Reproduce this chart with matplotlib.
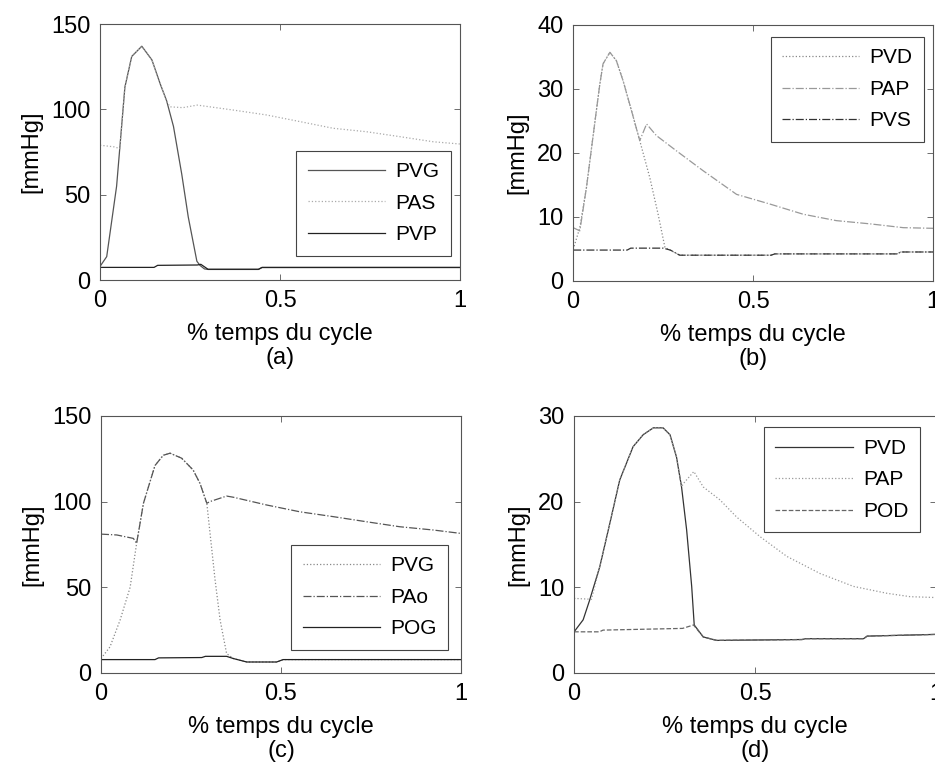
import matplotlib
matplotlib.use("Agg")
from matplotlib import pyplot as plt

plt.rcParams['font.family'] = ['Liberation Sans', 'DejaVu Sans']

# ---- panel (a) ----
a_pvg_x = [0, 0.0185, 0.046, 0.069, 0.088, 0.116, 0.144, 0.167, 0.185, 0.204, 0.227, 0.245, 0.269, 0.278,
           0.29, 0.30, 0.44, 0.45, 1.0]
a_pvg_y = [8, 13.7, 55, 113, 131, 137, 129, 115, 105, 90, 62, 37, 11, 8.5,
           6.5, 6.2, 6.2, 7.3, 7.3]
a_pas_x = [0, 0.04, 0.055, 0.069, 0.088, 0.116, 0.144, 0.167, 0.185, 0.194, 0.23, 0.27, 0.37, 0.463,
           0.556, 0.648, 0.74, 0.833, 0.926, 1.0]
a_pas_y = [79, 78, 77, 113, 131, 137, 129, 115, 105, 101.5, 101, 102.5, 99.6, 96.7,
           92.8, 88.9, 86.9, 84, 81, 79.7]
a_pvp_x = [0, 0.15, 0.16, 0.27, 0.28, 0.30, 0.44, 0.45, 1.0]
a_pvp_y = [7.4, 7.4, 8.6, 8.8, 9.2, 6.3, 6.3, 7.4, 7.4]

# ---- panel (b) ----
b_pvd_x = [0, 0.0185, 0.037, 0.056, 0.074, 0.083, 0.102, 0.12, 0.139, 0.162, 0.185, 0.213, 0.236,
           0.255, 0.269, 0.296, 0.55, 0.56, 0.9, 0.91, 1.0]
b_pvd_y = [4.9, 8.3, 14.6, 22.9, 30.7, 33.9, 35.7, 34.4, 31.2, 26.6, 21.9, 16.1, 10.4,
           5.2, 4.8, 4.0, 4.0, 4.2, 4.2, 4.5, 4.5]
b_pap_x = [0, 0.0185, 0.037, 0.056, 0.074, 0.083, 0.102, 0.12, 0.139, 0.162, 0.185, 0.204, 0.231,
           0.287, 0.361, 0.454, 0.546, 0.639, 0.731, 0.824, 0.917, 1.0]
b_pap_y = [8.3, 7.8, 14.6, 22.9, 30.7, 33.9, 35.7, 34.4, 31.2, 26.6, 21.9, 24.5, 22.7,
           20.3, 17.2, 13.5, 12.0, 10.4, 9.4, 8.9, 8.3, 8.2]
b_pvs_x = [0, 0.15, 0.16, 0.25, 0.27, 0.296, 0.55, 0.56, 0.9, 0.91, 1.0]
b_pvs_y = [4.8, 4.8, 5.1, 5.1, 4.8, 4.0, 4.0, 4.2, 4.2, 4.5, 4.5]

# ---- panel (c) ----
c_pvg_x = [0, 0.025, 0.053, 0.081, 0.099, 0.118, 0.15, 0.173, 0.192, 0.224, 0.256, 0.275, 0.294,
           0.303, 0.317, 0.331, 0.349, 0.368, 0.405, 0.488, 0.506, 1.0]
c_pvg_y = [8.4, 15.2, 30.8, 50, 75.6, 99, 121, 127, 128.2, 125.3, 118.4, 110.6, 99,
           81.4, 54.2, 30.8, 11.3, 8.4, 6.4, 6.4, 7.8, 7.8]
c_pao_x = [0, 0.044, 0.09, 0.099, 0.118, 0.15, 0.173, 0.192, 0.224, 0.256, 0.275, 0.294, 0.303,
           0.349, 0.368, 0.46, 0.553, 0.645, 0.738, 0.83, 0.923, 1.0]
c_pao_y = [81, 80.5, 78.5, 75.6, 99, 121, 127, 128.2, 125.3, 118.4, 110.6, 99, 100,
           103.2, 102.5, 98, 94, 91.2, 88.2, 85.3, 83.4, 81.4]
c_pog_x = [0, 0.15, 0.16, 0.28, 0.29, 0.349, 0.368, 0.405, 0.488, 0.506, 1.0]
c_pog_y = [7.8, 7.8, 8.8, 9.0, 9.7, 9.7, 8.4, 6.4, 6.4, 7.8, 7.8]

# ---- panel (d) ----
d_pvd_x = [0, 0.025, 0.043, 0.071, 0.099, 0.126, 0.163, 0.191, 0.219, 0.246, 0.265, 0.283, 0.297,
           0.311, 0.325, 0.332, 0.357, 0.394, 0.63, 0.64, 0.8, 0.81, 1.0]
d_pvd_y = [4.8, 6.2, 8.5, 12.4, 17.5, 22.5, 26.4, 27.8, 28.6, 28.6, 27.8, 25.2, 21.7,
           16.7, 10.1, 5.6, 4.2, 3.8, 3.9, 4.0, 4.0, 4.3, 4.5]
d_pap_x = [0, 0.048, 0.071, 0.099, 0.126, 0.163, 0.191, 0.219, 0.246, 0.265, 0.283, 0.297, 0.302,
           0.331, 0.357, 0.403, 0.449, 0.514, 0.588, 0.68, 0.772, 0.864, 0.929, 1.0]
d_pap_y = [8.7, 8.6, 12.4, 17.5, 22.5, 26.4, 27.8, 28.6, 28.6, 27.8, 25.2, 21.7, 22.1,
           23.5, 21.7, 20.2, 18.2, 15.9, 13.6, 11.6, 10.1, 9.3, 8.9, 8.8]
d_pod_x = [0, 0.07, 0.08, 0.30, 0.33, 0.357, 0.394, 0.63, 0.64, 0.8, 0.81, 1.0]
d_pod_y = [4.8, 4.8, 5.0, 5.2, 5.6, 4.2, 3.8, 3.9, 4.0, 4.0, 4.3, 4.5]

FS = 17       # ticks and axis labels
FS_LEG = 15   # legend entries
fig = plt.figure(figsize=(9.35, 7.63), dpi=100)


def make_axes(rect, ymax, ystep, letter):
    ax = fig.add_axes(rect)
    ax.set_xlim(0, 1)
    ax.set_ylim(0, ymax)
    ax.set_xticks([0, 0.5, 1])
    ax.set_xticklabels(['0', '0.5', '1'])
    ax.set_yticks(list(range(0, ymax + 1, ystep)))
    ax.tick_params(direction='in', length=4, width=0.6, color='#555555', labelsize=FS,
                   top=True, right=True, pad=7)
    for s in ax.spines.values():
        s.set_color('#555555')
        s.set_linewidth(0.8)
    ax.set_xlabel('% temps du cycle\n(' + letter + ')', fontsize=FS, labelpad=8, linespacing=1.15)
    ax.set_ylabel('[mmHg]', fontsize=FS, labelpad=6)
    return ax


def legend(ax, anchor):
    leg = ax.legend(loc='center', bbox_to_anchor=anchor, fontsize=FS_LEG, handlelength=3.7,
                    fancybox=False, framealpha=1, edgecolor='#444444', borderpad=0.55,
                    labelspacing=0.6, handletextpad=0.5)
    leg.get_frame().set_linewidth(0.8)
    return leg


# (a)
ax = make_axes([0.107, 0.633, 0.385, 0.3355], 150, 50, 'a')
ax.plot(a_pvg_x, a_pvg_y, color='#555555', lw=0.9, ls='-', label='PVG')
ax.plot(a_pas_x, a_pas_y, color='#aaaaaa', lw=0.9, ls=':', label='PAS')
ax.plot(a_pvp_x, a_pvp_y, color='#222222', lw=0.9, ls='-', label='PVP')
legend(ax, (0.76, 0.30))

# (b)
ax = make_axes([0.613, 0.632, 0.385, 0.3355], 40, 10, 'b')
ax.plot(b_pvd_x, b_pvd_y, color='#888888', lw=0.9, ls=':', label='PVD')
ax.plot(b_pap_x, b_pap_y, color='#999999', lw=0.9, ls='-.', label='PAP')
ax.plot(b_pvs_x, b_pvs_y, color='#333333', lw=0.9, ls='-.', label='PVS')
legend(ax, (0.762, 0.748))

# (c)
ax = make_axes([0.108, 0.118, 0.385, 0.337], 150, 50, 'c')
ax.plot(c_pvg_x, c_pvg_y, color='#888888', lw=0.9, ls=':', label='PVG')
ax.plot(c_pao_x, c_pao_y, color='#555555', lw=0.9, ls='-.', label='PAo')
ax.plot(c_pog_x, c_pog_y, color='#222222', lw=0.9, ls='-', label='POG')
legend(ax, (0.747, 0.294))

# (d)
ax = make_axes([0.614, 0.118, 0.387, 0.337], 30, 10, 'd')
ax.plot(d_pvd_x, d_pvd_y, color='#333333', lw=0.9, ls='-', label='PVD')
ax.plot(d_pap_x, d_pap_y, color='#999999', lw=0.9, ls=':', label='PAP')
ax.plot(d_pod_x, d_pod_y, color='#666666', lw=0.9, ls='--', label='POD')
legend(ax, (0.74, 0.751))

fig.savefig('out.png', dpi=100)
